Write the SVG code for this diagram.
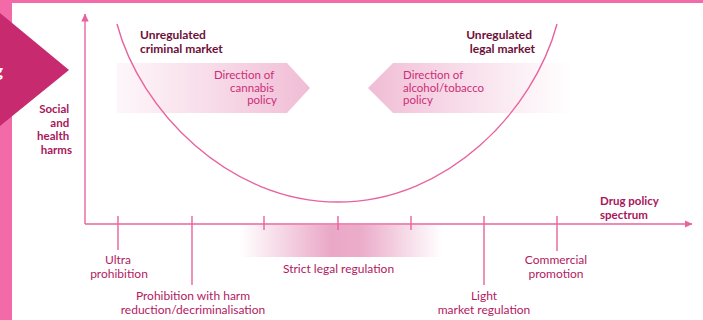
<svg xmlns="http://www.w3.org/2000/svg" width="703" height="320" viewBox="0 0 703 320">
  <defs>
    <style>
      text { font-family: Lato, "Liberation Sans", sans-serif; }
      .lbl { font-size: 12px; fill: #b3195f; text-anchor: middle; }
      .dir { font-size: 11.5px; fill: #cc2d78; }
      .hd { font-size: 12px; font-weight: bold; fill: #6e0f3a; }
      .ax { font-size: 11.5px; font-weight: bold; fill: #a8165a; }
      .line { stroke: #e8639e; stroke-width: 1.4; fill: none; }
    </style>
    <linearGradient id="gCannabis" x1="117" y1="0" x2="310" y2="0" gradientUnits="userSpaceOnUse">
      <stop offset="0" stop-color="#f3c4da" stop-opacity="0.15"/>
      <stop offset="1" stop-color="#f0bcd5" stop-opacity="1"/>
    </linearGradient>
    <linearGradient id="gAlcohol" x1="368" y1="0" x2="572" y2="0" gradientUnits="userSpaceOnUse">
      <stop offset="0" stop-color="#f0bcd5" stop-opacity="1"/>
      <stop offset="1" stop-color="#f3c4da" stop-opacity="0"/>
    </linearGradient>
    <linearGradient id="gStrict" x1="240" y1="0" x2="442" y2="0" gradientUnits="userSpaceOnUse">
      <stop offset="0" stop-color="#eaa8c7" stop-opacity="0"/>
      <stop offset="0.45" stop-color="#eaa8c7" stop-opacity="1"/>
      <stop offset="0.6" stop-color="#eaa8c7" stop-opacity="0.95"/>
      <stop offset="1" stop-color="#eaa8c7" stop-opacity="0"/>
    </linearGradient>
    <marker id="ah" viewBox="0 0 8 8" refX="7.5" refY="4" markerWidth="8" markerHeight="8" markerUnits="userSpaceOnUse" orient="auto">
      <path d="M0,0.3 L8,4 L0,7.7 Z" fill="#e8639e"/>
    </marker>
  </defs>

  <!-- page frame -->
  <rect x="0" y="0" width="703" height="320" fill="#ffffff"/>
  <rect x="0" y="0" width="703" height="3" fill="#f26aa7"/>
  <rect x="0" y="0" width="12" height="320" fill="#f26aa7"/>
  <polygon points="0,13 69,70 0,126" fill="#c72a6f"/>
  <text x="-6" y="77" font-size="17" font-weight="bold" fill="#ffffff">g</text>

  <!-- strict regulation band -->
  <rect id="strict-band" x="240" y="225" width="202" height="32" fill="url(#gStrict)"/>

  <!-- policy direction arrows -->
  <g id="cannabis-direction">
    <polygon points="117,63 287,63 310,88 287,113 117,113" fill="url(#gCannabis)"/>
    <text class="dir" text-anchor="end">
      <tspan x="277" y="79">Direction of</tspan>
      <tspan x="277" y="91.5">cannabis</tspan>
      <tspan x="277" y="104">policy</tspan>
    </text>
  </g>
  <g id="alcohol-direction">
    <polygon points="368,88 393,63 572,63 572,113 393,113" fill="url(#gAlcohol)"/>
    <text class="dir">
      <tspan x="403" y="79">Direction of</tspan>
      <tspan x="403" y="91.5">alcohol/tobacco</tspan>
      <tspan x="403" y="104">policy</tspan>
    </text>
  </g>

  <!-- axes, harm curve and ticks -->
  <g id="connectors">
    <path class="line" d="M85,224 L85,14" marker-end="url(#ah)"/>
    <path class="line" d="M85,224 L692,224" marker-end="url(#ah)"/>
    <path class="line" stroke-width="1.6" d="M117,24 C140,110 228,202 338,202 C448,202 534,110 557,24"/>
    <path class="line" d="M118,216 V250 M192,216 V285 M264,216 V230 M338,216 V230 M411,216 V230 M484,216 V285 M557,216 V251"/>
  </g>

  <!-- axis titles -->
  <g id="y-axis-label">
    <text class="ax" text-anchor="end">
      <tspan x="72" y="113">Social</tspan>
      <tspan x="72" y="126.5">and</tspan>
      <tspan x="72" y="140">health</tspan>
      <tspan x="72" y="153.5">harms</tspan>
    </text>
  </g>
  <g id="x-axis-label">
    <text class="ax">
      <tspan x="600" y="205">Drug policy</tspan>
      <tspan x="600" y="218.5">spectrum</tspan>
    </text>
  </g>

  <!-- curve end labels -->
  <g id="criminal-market">
    <text class="hd">
      <tspan x="140" y="39">Unregulated</tspan>
      <tspan x="140" y="53">criminal market</tspan>
    </text>
  </g>
  <g id="legal-market">
    <text class="hd" text-anchor="end">
      <tspan x="535" y="39">Unregulated</tspan>
      <tspan x="535" y="53">legal market</tspan>
    </text>
  </g>

  <!-- spectrum positions -->
  <g id="ultra-prohibition">
    <text class="lbl"><tspan x="118" y="264">Ultra</tspan><tspan x="119" y="278">prohibition</tspan></text>
  </g>
  <g id="harm-reduction">
    <text class="lbl"><tspan x="193" y="300">Prohibition with harm</tspan><tspan x="193" y="314">reduction/decriminalisation</tspan></text>
  </g>
  <g id="strict-regulation">
    <text class="lbl" x="338.5" y="272.5">Strict legal regulation</text>
  </g>
  <g id="light-regulation">
    <text class="lbl"><tspan x="484" y="300">Light</tspan><tspan x="484" y="314">market regulation</tspan></text>
  </g>
  <g id="commercial-promotion">
    <text class="lbl"><tspan x="556" y="264">Commercial</tspan><tspan x="556" y="278">promotion</tspan></text>
  </g>
</svg>
